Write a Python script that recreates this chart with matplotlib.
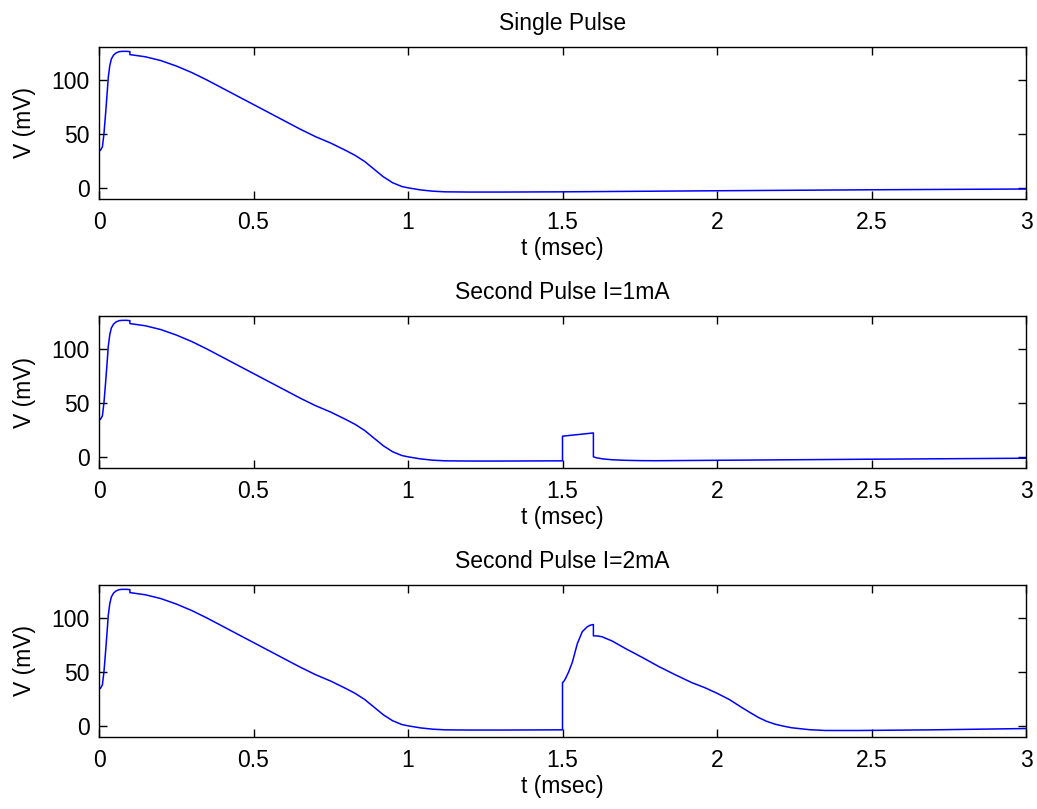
import matplotlib
matplotlib.use("Agg")
import numpy as np
from matplotlib import pyplot as plt

plt.rcParams['font.family'] = ['Liberation Sans', 'DejaVu Sans']

# first action potential (stimulus 0 - 0.1 msec), shared by all panels
t_ap = [0, 0, 0.005, 0.011, 0.016, 0.022, 0.027, 0.030, 0.035, 0.040, 0.047, 0.055,
        0.065, 0.075, 0.09, 0.1, 0.1, 0.15, 0.2, 0.25, 0.3, 0.35, 0.4, 0.45, 0.5,
        0.55, 0.6, 0.65, 0.7, 0.75, 0.8, 0.83, 0.86, 0.89, 0.92, 0.95,
        0.98, 1.0, 1.04, 1.08, 1.12, 1.2, 1.3, 1.4, 1.5]
v_ap = [0, 34, 35, 38, 50, 71, 90, 102, 113, 119, 122.5, 124.5,
        125.7, 126, 126, 125.7, 123, 121, 117.5, 112.5, 106.5, 99.5, 92, 84.5, 77,
        69.5, 62, 54.5, 47.5, 41.5, 34.5, 30, 24.5, 17.5, 10.5, 5,
        1.5, 0.3, -1.6, -2.8, -3.4, -3.6, -3.6, -3.5, -3.4]

# single pulse: recovery after 1.5 msec
t_single = [1.5, 1.7, 2.0, 2.5, 3.0]
v_single = [-3.4, -3.0, -2.4, -1.5, -0.8]

# second pulse I=1mA (1.5 - 1.6 msec)
t_1ma = [1.5, 1.5, 1.55, 1.6, 1.6, 1.61, 1.63, 1.66, 1.7, 1.75, 1.8, 2.0, 2.5, 3.0]
v_1ma = [-3.5, 19.3, 20.8, 22.3, 0.3, -0.6, -1.6, -2.4, -2.9, -3.2, -3.3, -2.9, -1.9, -1.0]

# second pulse I=2mA (1.5 - 1.6 msec)
t_2ma = [1.5, 1.5, 1.505, 1.51, 1.52, 1.532, 1.548, 1.564, 1.58, 1.59, 1.6, 1.6,
         1.615, 1.628, 1.66, 1.703, 1.76, 1.811, 1.86, 1.919, 1.96, 2.0, 2.04, 2.08,
         2.11, 2.134, 2.16, 2.188, 2.215, 2.242, 2.3, 2.35, 2.46, 2.7, 3.0]
v_2ma = [-3.4, 40, 41.5, 44, 50, 59, 76, 87, 91.5, 93, 93.6, 83.2,
         83, 82.3, 78.5, 71.6, 63, 55, 48, 40, 35.5, 30.3, 24.5, 17.2,
         12, 8, 4.5, 1.8, 0, -1.5, -3.3, -4, -4, -3.4, -2.2]

titles = ["Single Pulse", "Second Pulse I=1mA", "Second Pulse I=2mA"]
tails = [(t_single, v_single), (t_1ma, v_1ma), (t_2ma, v_2ma)]

fig = plt.figure(figsize=(10.37, 8.09), dpi=100)
W, H = 1037, 809
tops = [47, 316, 585]
fs = 16.5
for title, (tt, vv), top in zip(titles, tails, tops):
    ax = fig.add_axes([99 / W, 1 - (top + 152) / H, 927 / W, 152 / H])
    t = np.concatenate([t_ap, tt[1:]])
    v = np.concatenate([v_ap, vv[1:]])
    ax.plot(t, v, color=(0, 0, 1), lw=1.1)
    ax.set_xlim(0, 3)
    ax.set_ylim(-10, 130)
    ax.set_xticks([0, 0.5, 1, 1.5, 2, 2.5, 3])
    ax.set_xticklabels(["0", "0.5", "1", "1.5", "2", "2.5", "3"])
    ax.set_yticks([0, 50, 100])
    ax.tick_params(direction="in", top=True, right=True, length=5.5, width=1.0,
                   labelsize=fs)
    ax.tick_params(axis="x", pad=8.5)
    ax.tick_params(axis="y", pad=6.5)
    for s in ax.spines.values():
        s.set_linewidth(1.0)
    ax.set_xlabel("t (msec)", fontsize=fs, labelpad=2)
    ax.set_ylabel("V (mV)", fontsize=fs, labelpad=11)
    ax.set_title(title, fontsize=fs, pad=12)

fig.savefig("out.png", dpi=100)
